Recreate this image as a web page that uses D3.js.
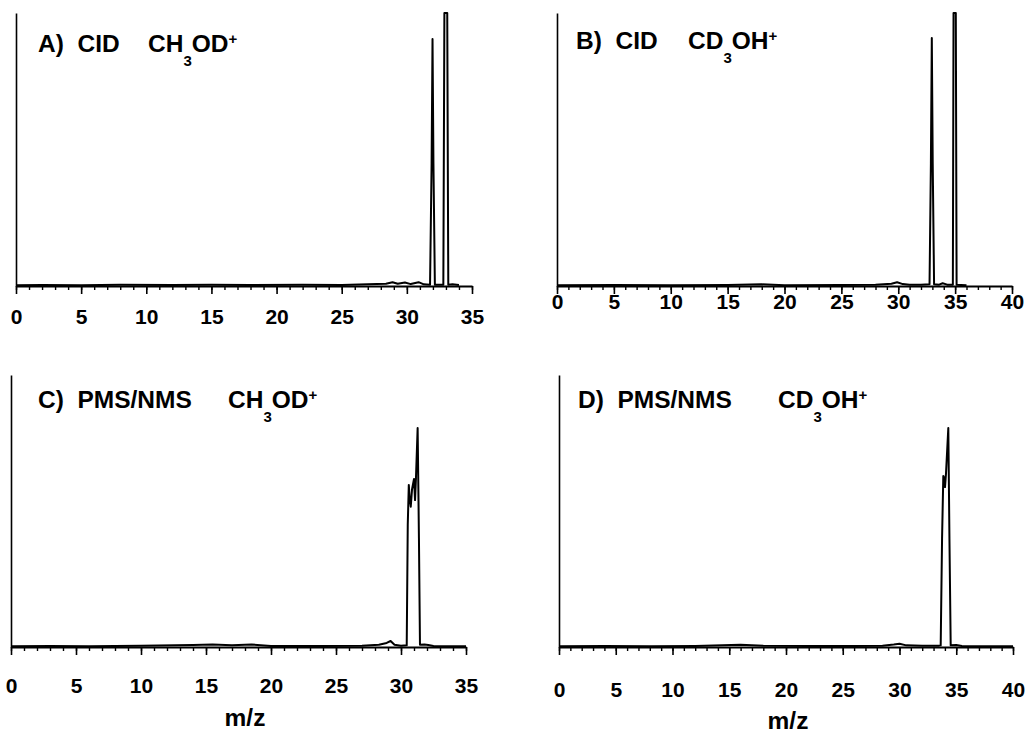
<!DOCTYPE html>
<html>
<head>
<meta charset="utf-8">
<script src="https://cdn.jsdelivr.net/npm/d3@7"></script>
<style>
  html, body { margin: 0; padding: 0; background: #fff; }
  svg { display: block; font-family: "Liberation Sans", Arial, Helvetica, sans-serif; }
</style>
</head>
<body>
<svg id="chart" width="1028" height="735"></svg>
<script>
// Spectra: [m/z, relative intensity %]
const specA = [[0,0.3],[2,0.4],[5,0.3],[8,0.5],[12,0.4],[15,0.5],[18,0.4],[22,0.5],[25,0.4],[27,0.6],[28.4,0.8],[28.9,1.4],[29.3,0.8],[29.85,1.3],[30.3,0.7],[30.9,1.4],[31.3,0.6],[31.78,0.5],[31.9,45],[31.97,90.5],[32.04,45],[32.15,0.5],[32.8,0.5],[32.88,100],[33.1,100],[33.18,0.5],[33.5,0.6],[34,0.4]];
const specB = [[0,0.3],[5,0.4],[10,0.3],[15,0.4],[18,0.6],[20,0.3],[25,0.4],[28,0.5],[29.4,0.8],[29.9,1.4],[30.4,0.7],[31,0.5],[32,0.5],[32.75,0.6],[32.87,45],[32.95,90.8],[33.03,45],[33.15,0.6],[33.6,0.5],[33.9,1],[34.3,0.5],[34.8,0.5],[34.86,100],[35.06,100],[35.13,0.5],[35.5,0.4],[36,0.3]];
const specC = [[0,0.3],[3,0.4],[6,0.3],[10,0.5],[14,0.7],[15.5,0.9],[17,0.6],[18.5,0.9],[20,0.4],[24,0.4],[27,0.5],[28.3,0.8],[28.9,1.5],[29.2,2.2],[29.5,0.8],[30.0,0.5],[30.44,0.6],[30.52,45],[30.6,59.6],[30.66,55],[30.75,51.6],[30.85,58],[31.0,61.8],[31.08,54],[31.15,62],[31.28,80.5],[31.38,40],[31.46,0.8],[31.8,0.9],[32.1,0.7],[32.5,0.4],[33,0.3],[35,0.3]];
const specD = [[0,0.3],[4,0.4],[8,0.3],[12,0.4],[16,0.8],[18,0.5],[22,0.4],[26,0.4],[28.5,0.5],[29.5,0.9],[30,1.2],[30.6,0.6],[32,0.5],[33.5,0.5],[33.63,0.6],[33.75,40],[33.86,62.9],[33.95,62],[34.01,58.8],[34.1,64],[34.3,80.5],[34.4,40],[34.51,0.6],[35,0.7],[35.5,0.4],[37,0.3],[40,0.3]];

// Axis ranges (m/z) and tick steps
const xMaxA = 35, xMaxB = 40, xMaxC = 35, xMaxD = 40;
const majorStep = 5, minorStep = 1;

// Panel titles: prefix and formula parts
const titleA = { prefix: "A)  CID", formula: [["CH"],["3","sub"],["OD"],["+","sup"]] };
const titleB = { prefix: "B)  CID", formula: [["CD"],["3","sub"],["OH"],["+","sup"]] };
const titleC = { prefix: "C)  PMS/NMS", formula: [["CH"],["3","sub"],["OD"],["+","sup"]] };
const titleD = { prefix: "D)  PMS/NMS", formula: [["CD"],["3","sub"],["OH"],["+","sup"]] };
const xLabel = "m/z";

const panels = [
  { spec: specA, xMax: xMaxA, title: titleA, left: 16, right: 472, top: 13, base: 286, labelPad: 15, tx: 38, ty: 52, fx: 148, xl: null },
  { spec: specB, xMax: xMaxB, title: titleB, left: 557, right: 1012, top: 13, base: 286, labelPad: 0, tx: 576, ty: 49, fx: 688, xl: null },
  { spec: specC, xMax: xMaxC, title: titleC, left: 11, right: 466, top: 375, base: 647, labelPad: 23, tx: 38, ty: 408, fx: 228, xl: [245, 726] },
  { spec: specD, xMax: xMaxD, title: titleD, left: 559, right: 1013, top: 375, base: 647, labelPad: 27, tx: 578, ty: 408, fx: 778, xl: [788, 729] }
];

const svg = d3.select("#chart");

panels.forEach(p => {
  const x = d3.scaleLinear().domain([0, p.xMax]).range([p.left, p.right]);
  const y = d3.scaleLinear().domain([0, 100]).range([p.base, p.top]);
  const g = svg.append("g");

  // vertical axis line
  g.append("g")
    .attr("transform", `translate(${p.left},0)`)
    .call(d3.axisLeft(y).tickValues([]).tickSizeOuter(0))
    .call(a => a.select(".domain").attr("stroke", "#000").attr("stroke-width", 1.6));

  // minor ticks
  g.append("g")
    .attr("transform", `translate(0,${p.base})`)
    .call(d3.axisBottom(x).tickValues(d3.range(0, p.xMax + 0.001, minorStep)).tickSize(4).tickSizeOuter(0).tickFormat(""))
    .call(a => a.select(".domain").attr("stroke", "#000").attr("stroke-width", 2))
    .call(a => a.selectAll(".tick line").attr("stroke", "#000").attr("stroke-width", 1.4));

  // major ticks with labels
  g.append("g")
    .attr("transform", `translate(0,${p.base})`)
    .call(d3.axisBottom(x).tickValues(d3.range(0, p.xMax + 0.001, majorStep)).tickSize(8).tickSizeOuter(0).tickPadding(p.labelPad).tickFormat(d3.format("d")))
    .call(a => a.select(".domain").remove())
    .call(a => a.selectAll(".tick line").attr("stroke", "#000").attr("stroke-width", 1.6))
    .call(a => a.selectAll(".tick text")
      .attr("fill", "#000")
      .style("font-family", '"Liberation Sans", Arial, sans-serif')
      .style("font-size", "21px")
      .style("font-weight", "bold"));

  // spectrum trace
  const line = d3.line().x(d => x(d[0])).y(d => y(d[1]));
  g.append("path")
    .datum(p.spec)
    .attr("d", line)
    .attr("fill", "none")
    .attr("stroke", "#000")
    .attr("stroke-width", 2)
    .attr("stroke-linejoin", "round");

  // title
  const t = g.append("text")
    .attr("font-size", 24.5)
    .attr("font-weight", "bold")
    .attr("fill", "#000");
  t.append("tspan").attr("x", p.tx).attr("y", p.ty).attr("xml:space", "preserve").text(p.title.prefix);
  let shift = 0;
  p.title.formula.forEach((part, i) => {
    const ts = t.append("tspan");
    if (i === 0) ts.attr("x", p.fx).attr("y", p.ty);
    let target = 0, size = 24.5;
    if (part[1] === "sub") { target = 14; size = 15; }
    if (part[1] === "sup") { target = -8; size = 15; }
    ts.attr("dy", target - shift).attr("font-size", size).text(part[0]);
    shift = target;
  });

  // x axis title
  if (p.xl) {
    g.append("text")
      .attr("x", p.xl[0]).attr("y", p.xl[1])
      .attr("text-anchor", "middle")
      .attr("font-size", 24.5)
      .attr("font-weight", "bold")
      .text(xLabel);
  }
});
</script>
</body>
</html>
